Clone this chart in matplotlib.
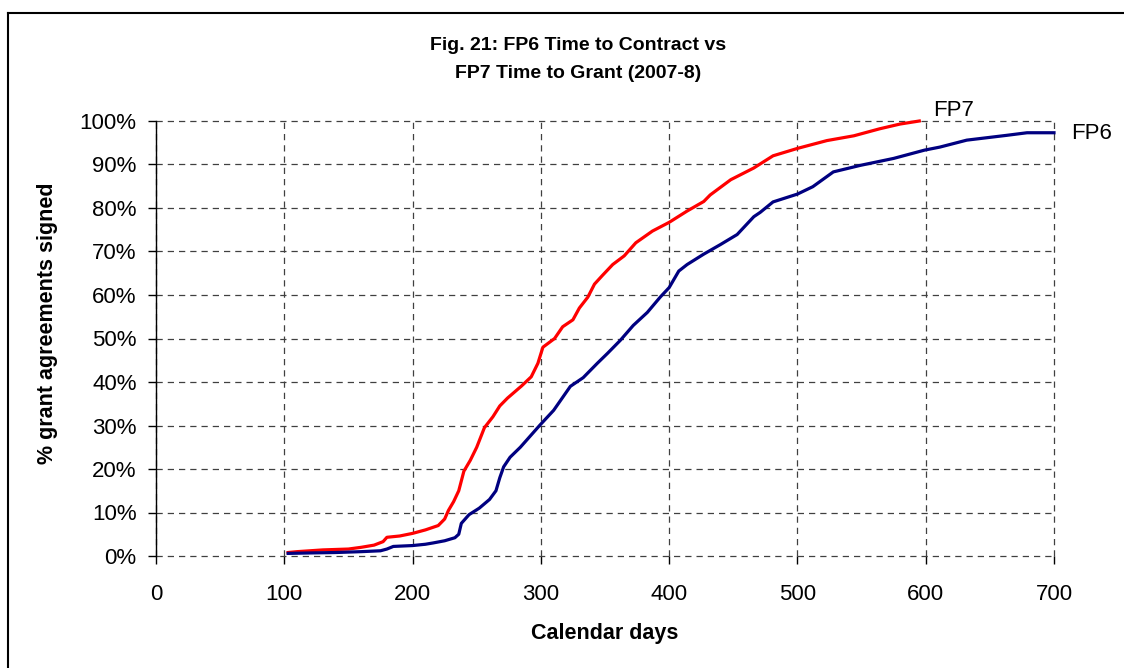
import numpy as np
import matplotlib.pyplot as plt
from matplotlib.lines import Line2D

plt.rcParams['font.family'] = ['Liberation Sans', 'DejaVu Sans']

# FP7 time to grant (red)
fp7_days = [103, 110, 120, 130, 140, 150, 160, 170, 177, 180, 190, 200, 210, 220, 225,
            228, 232, 236, 240, 245, 250, 256, 262.6, 268, 274, 285, 292.5, 297.7, 301.6,
            310.7, 317, 325, 330, 336.6, 341.8, 348, 356, 365, 374, 387, 400, 414, 427,
            432, 448, 466, 481, 500, 523, 544, 564, 580, 595]
fp7_pct = [0.8, 1.0, 1.2, 1.4, 1.5, 1.6, 2.0, 2.5, 3.3, 4.3, 4.6, 5.2, 6.0, 7.0, 8.5,
           10.5, 12.5, 15, 19.5, 22, 25, 29.5, 32, 34.5, 36.3, 39.1, 41.2, 44.3, 48,
           50, 52.7, 54.3, 57, 59.5, 62.5, 64.5, 67, 69, 72, 74.7, 76.7, 79.3, 81.5,
           83, 86.5, 89.2, 92, 93.7, 95.5, 96.6, 98.2, 99.3, 100]

# FP6 time to contract (blue)
fp6_days = [103, 120, 140, 150, 160, 175, 180, 185, 200, 210, 216, 225, 233, 236, 238,
            244, 252, 260, 265, 268, 271, 276, 284, 299, 310, 323, 333, 344, 352, 362,
            372, 383, 393, 400, 407.5, 414, 427, 440, 453, 466, 471, 481, 500, 512, 528,
            549, 575, 599, 611, 632, 663, 679, 700]
fp6_pct = [0.6, 0.7, 0.8, 0.9, 1.0, 1.2, 1.6, 2.2, 2.4, 2.7, 3.0, 3.5, 4.2, 5.0, 7.5,
           9.5, 11, 13, 15, 18, 20.5, 22.7, 25, 30, 33.5, 39, 41, 44.3, 46.6, 49.6,
           53, 56, 59.5, 61.7, 65.5, 67, 69.4, 71.6, 73.9, 78, 79, 81.4, 83.2, 84.9, 88.3,
           89.8, 91.4, 93.3, 94, 95.6, 96.7, 97.3, 97.3]

fig = plt.figure(figsize=(11.24, 6.68), dpi=100)
ax = fig.add_axes([156/1124, 1-556/668, (1054-156)/1124, (556-121)/668])

ax.plot(fp7_days, fp7_pct, color='#FF0000', lw=2.3, clip_on=False, zorder=3)
ax.plot(fp6_days, fp6_pct, color='#000080', lw=2.3, clip_on=False, zorder=3)

ax.set_xlim(0, 700)
ax.set_ylim(0, 100)
ax.set_xticks(np.arange(0, 701, 100))
ax.set_yticks(np.arange(0, 101, 10))
ax.set_yticklabels([f'{v}%' for v in range(0, 101, 10)])
ax.grid(True, linestyle=(0, (5, 4)), color='#404040', lw=0.9)
for gl in ax.get_xgridlines() + ax.get_ygridlines():
    gl.set_clip_on(False)
for s in ['top', 'right', 'bottom']:
    ax.spines[s].set_visible(False)
ax.spines['left'].set_linewidth(1.0)
ax.tick_params(axis='both', labelsize=16, length=6, width=1.0, direction='out')
ax.tick_params(axis='x', pad=14)
ax.tick_params(axis='y', pad=8)

ax.text(606, 102.5, 'FP7', fontsize=16, va='center', ha='left', clip_on=False)
ax.text(713, 97.2, 'FP6', fontsize=16, va='center', ha='left', clip_on=False)

fig.text(578/1124, 1-46/668, 'Fig. 21: FP6 Time to Contract vs', fontsize=14,
         fontweight='bold', ha='center', va='center')
fig.text(578/1124, 1-74/668, 'FP7 Time to Grant (2007-8)', fontsize=14,
         fontweight='bold', ha='center', va='center')
fig.text(605/1124, 1-633/668, 'Calendar days', fontsize=15.5, fontweight='bold',
         ha='center', va='center')
fig.text(48/1124, 1-323/668, '% grant agreements signed', fontsize=15.5, fontweight='bold',
         ha='center', va='center', rotation=90)

# outer frame (left and top edges visible)
fig.add_artist(Line2D([8/1124, 8/1124], [0, 1-13/668], color='black', lw=1.5))
fig.add_artist(Line2D([8/1124, 1], [1-13/668, 1-13/668], color='black', lw=1.5))

fig.savefig('out.png', dpi=100)
